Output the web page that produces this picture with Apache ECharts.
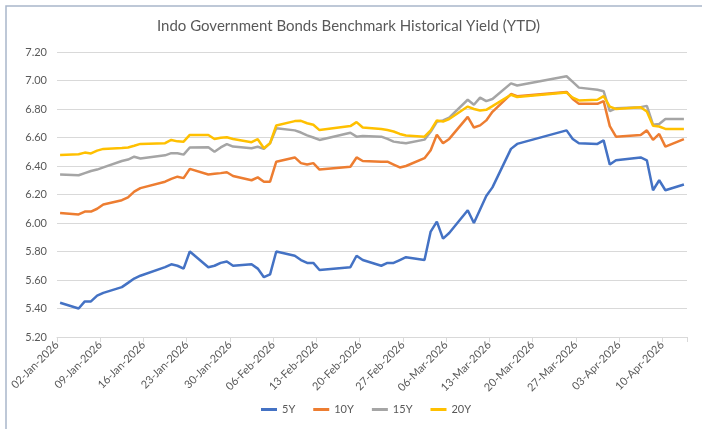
<!DOCTYPE html>
<html><head><meta charset="utf-8">
<script src="https://cdn.jsdelivr.net/npm/echarts@6/dist/echarts.min.js"></script>
<style>html,body{margin:0;padding:0;background:#fff}#c{width:702px;height:429px}</style>
</head><body><div id="c"></div>
<script>
var dates = [
 '2026-01-02','2026-01-05','2026-01-06','2026-01-07','2026-01-08','2026-01-09','2026-01-12','2026-01-13','2026-01-14','2026-01-15',
 '2026-01-19','2026-01-20','2026-01-21','2026-01-22','2026-01-23','2026-01-26','2026-01-27','2026-01-28','2026-01-29','2026-01-30',
 '2026-02-02','2026-02-03','2026-02-04','2026-02-05','2026-02-06','2026-02-09','2026-02-10','2026-02-11','2026-02-12','2026-02-13',
 '2026-02-18','2026-02-19','2026-02-20','2026-02-23','2026-02-24','2026-02-25','2026-02-26','2026-02-27',
 '2026-03-02','2026-03-03','2026-03-04','2026-03-05','2026-03-06','2026-03-09','2026-03-10','2026-03-11','2026-03-12','2026-03-13',
 '2026-03-16','2026-03-17','2026-03-25','2026-03-26','2026-03-27','2026-03-30','2026-03-31',
 '2026-04-01','2026-04-02','2026-04-06','2026-04-07','2026-04-08','2026-04-09','2026-04-10','2026-04-13'
];
var y5 = [
 5.44,5.40,5.45,5.45,5.49,5.51,5.55,5.58,5.61,5.63,
 5.69,5.71,5.70,5.68,5.80,5.69,5.70,5.72,5.73,5.70,
 5.71,5.68,5.62,5.64,5.80,5.77,5.74,5.72,5.72,5.67,
 5.69,5.77,5.74,5.70,5.72,5.72,5.74,5.76,
 5.74,5.94,6.01,5.89,5.93,6.09,6.00,6.095,6.19,6.25,
 6.52,6.555,6.65,6.59,6.56,6.555,6.58,
 6.41,6.44,6.46,6.44,6.23,6.30,6.23,6.27
];
var y10 = [
 6.07,6.06,6.08,6.08,6.10,6.13,6.16,6.18,6.22,6.245,
 6.29,6.31,6.325,6.315,6.38,6.34,6.345,6.35,6.356,6.33,
 6.30,6.32,6.29,6.29,6.43,6.46,6.42,6.41,6.42,6.375,
 6.395,6.46,6.435,6.43,6.43,6.41,6.39,6.40,
 6.455,6.51,6.62,6.56,6.59,6.745,6.67,6.685,6.72,6.78,
 6.905,6.89,6.92,6.87,6.836,6.836,6.855,
 6.68,6.606,6.618,6.65,6.583,6.625,6.536,6.588
];
var y15 = [
 6.34,6.335,6.35,6.365,6.375,6.39,6.435,6.445,6.465,6.453,
 6.475,6.49,6.49,6.48,6.53,6.532,6.50,6.53,6.553,6.536,
 6.525,6.535,6.52,6.56,6.665,6.65,6.635,6.615,6.60,6.583,
 6.633,6.606,6.611,6.606,6.59,6.571,6.565,6.56,
 6.585,6.64,6.71,6.72,6.74,6.865,6.83,6.88,6.855,6.87,
 6.98,6.965,7.03,6.99,6.95,6.935,6.925,
 6.785,6.805,6.813,6.822,6.69,6.695,6.73,6.73
];
var y20 = [
 6.478,6.483,6.494,6.488,6.508,6.52,6.527,6.53,6.542,6.555,
 6.56,6.583,6.573,6.571,6.618,6.618,6.59,6.598,6.602,6.59,
 6.567,6.588,6.525,6.56,6.684,6.715,6.717,6.70,6.689,6.652,
 6.68,6.708,6.67,6.659,6.652,6.642,6.625,6.614,
 6.606,6.65,6.72,6.712,6.73,6.817,6.80,6.79,6.794,6.82,
 6.90,6.884,6.915,6.88,6.86,6.865,6.89,
 6.817,6.80,6.813,6.782,6.682,6.677,6.66,6.66
];
var seriesNames = ['5Y','10Y','15Y','20Y'];
var seriesColors = ['#4472C4','#ED7D31','#A5A5A5','#FFC000'];
var yTicks = [5.20,5.40,5.60,5.80,6.00,6.20,6.40,6.60,6.80,7.00,7.20];

var DAY = 86400000;
var start = Date.UTC(2026,0,2);
var months = ['Jan','Feb','Mar','Apr','May','Jun','Jul','Aug','Sep','Oct','Nov','Dec'];
function dayIdx(s){var p=s.split('-');return (Date.UTC(+p[0],+p[1]-1,+p[2])-start)/DAY;}
function fmt(v){var d=new Date(start+Math.round(v)*DAY);var dd=d.getUTCDate();return (dd<10?'0':'')+dd+'-'+months[d.getUTCMonth()]+'-'+d.getUTCFullYear();}
function pairs(vals){return vals.map(function(v,i){return [dayIdx(dates[i])+0.5,v];});}

var font = 'Lato, "Liberation Sans", sans-serif';
var chart = echarts.init(document.getElementById('c'), null, {renderer:'canvas'});
var allVals=[y5,y10,y15,y20];
chart.setOption({
  animation:false,
  backgroundColor:'#fff',
  textStyle:{fontFamily:font},
  graphic:[{type:'rect',shape:{x:6,y:6,width:720,height:440},style:{fill:'none',stroke:'#A9B6CA',lineWidth:1.5},silent:true}],
  title:{text:'Indo Government Bonds Benchmark Historical Yield (YTD)',left:152,top:14,
    textStyle:{fontFamily:font,fontSize:15,fontWeight:'normal',color:'#595959'}},
  legend:{bottom:9,left:256,icon:'rect',itemWidth:16,itemHeight:3,itemGap:18,
    textStyle:{fontFamily:font,fontSize:11,color:'#595959'},data:seriesNames},
  grid:{left:57,right:15,top:52,bottom:92,containLabel:false},
  xAxis:{type:'value',min:0,max:102,interval:7,
    axisLine:{show:true,lineStyle:{color:'#D9D9D9',width:1}},
    axisTick:{show:true,length:5,lineStyle:{color:'#D9D9D9'}},
    splitLine:{show:false},
    axisLabel:{rotate:45,fontSize:11,color:'#595959',fontFamily:font,margin:6,
      formatter:function(v){return v>101?'':fmt(v);}}},
  yAxis:{type:'value',min:yTicks[0],max:yTicks[yTicks.length-1],interval:0.2,
    axisLine:{show:false},axisTick:{show:false},
    splitLine:{lineStyle:{color:'#D9D9D9',width:1}},
    axisLabel:{fontSize:11,color:'#595959',fontFamily:font,margin:10,formatter:function(v){return v.toFixed(2);}}},
  series:seriesNames.map(function(n,i){return {name:n,type:'line',data:pairs(allVals[i]),showSymbol:false,symbol:'none',
    lineStyle:{width:2.5,color:seriesColors[i]},itemStyle:{color:seriesColors[i]}};})
});
</script></body></html>
